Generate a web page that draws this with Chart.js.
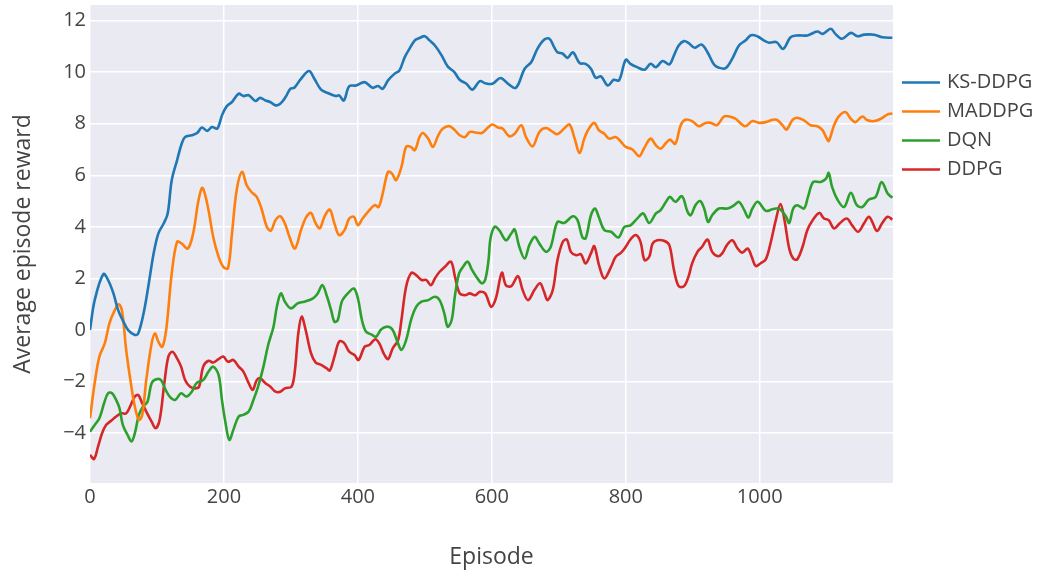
<!DOCTYPE html>
<html>
<head>
<meta charset="utf-8">
<script src="https://cdn.jsdelivr.net/npm/chart.js@4"></script>
<style>
    html, body { margin: 0; padding: 0; background: #ffffff; }
    #contenedor { width: 1037px; height: 578px; }
</style>
</head>
<body>
<div id="contenedor"><canvas id="graficoRecompensa"></canvas></div>
<script>
// Datos (episodio, recompensa media)
const nombresSeries = ['KS-DDPG', 'MADDPG', 'DQN', 'DDPG'];
const coloresSeries = ['#1f77b4', '#ff7f0e', '#2ca02c', '#d62728'];
const ticksX = [0, 200, 400, 600, 800, 1000];
const ticksY = [-4, -2, 0, 2, 4, 6, 8, 10, 12];

const episodiosKS = [0,7,20,27,35,42,50,57,67,72,80,87,95,102,110,116,122,130,137,142,152,160,167,175,182,190,197,204,212,222,229,237,247,254,262,269,277,284,292,299,305,315,327,335,345,355,367,372,379,387,397,410,422,430,437,445,455,462,470,477,485,492,500,507,515,525,534,544,552,562,571,582,590,601,613,624,636,649,659,668,678,686,693,698,706,713,721,731,740,748,755,763,773,782,790,800,807,817,828,837,845,855,865,872,879,887,894,903,913,922,932,939,949,959,969,979,987,997,1006,1014,1025,1035,1046,1056,1071,1086,1094,1106,1113,1123,1136,1146,1156,1171,1183,1198];
const valoresKS = [0,1.16,2.17,1.94,1.42,0.77,0.32,0,-0.19,-0.13,0.65,1.68,2.97,3.74,4.13,4.52,5.8,6.58,7.23,7.48,7.55,7.64,7.85,7.72,7.87,7.81,8.32,8.67,8.84,9.16,9.07,9.1,8.88,9.0,8.9,8.84,8.71,8.77,9.03,9.35,9.39,9.74,10.04,9.74,9.32,9.19,9.07,9.1,8.9,9.45,9.48,9.61,9.39,9.46,9.35,9.68,9.94,10.06,10.58,10.9,11.23,11.32,11.39,11.23,11.03,10.65,10.22,10.0,9.7,9.55,9.32,9.65,9.57,9.55,9.77,9.55,9.39,10.13,10.39,10.9,11.25,11.29,10.97,10.77,10.71,10.55,10.77,10.35,10.32,10.13,9.78,9.83,9.48,9.7,9.68,10.48,10.32,10.19,10.09,10.32,10.19,10.43,10.3,10.65,11.03,11.2,11.12,10.94,11.07,10.77,10.28,10.17,10.15,10.52,11.03,11.23,11.43,11.38,11.23,11.14,11.16,10.9,11.35,11.42,11.42,11.57,11.48,11.68,11.48,11.29,11.52,11.39,11.45,11.45,11.35,11.33];

const episodiosMA = [0,7,14,22,29,37,43,48,54,61,67,73,78,84,92,97,102,108,114,122,130,137,146,154,162,168,176,184,192,199,206,212,219,227,234,241,249,256,264,270,277,284,291,298,306,315,323,330,336,343,350,358,365,372,380,387,394,400,407,415,425,431,437,445,451,457,465,472,479,485,492,497,505,512,520,527,537,545,552,560,567,575,585,595,601,609,616,626,634,644,651,661,671,681,691,698,708,716,723,731,738,745,753,760,768,775,785,793,800,810,820,827,837,845,852,860,866,874,882,889,899,909,919,927,936,947,957,964,978,989,999,1009,1019,1026,1034,1040,1049,1056,1066,1076,1086,1094,1099,1103,1111,1118,1128,1136,1143,1153,1161,1171,1181,1191,1198];
const valoresMA = [-3.42,-2.06,-1.03,-0.52,0.26,0.77,1.0,0.71,-0.77,-2.06,-2.97,-3.48,-3.29,-1.94,-0.52,-0.13,-0.45,-0.65,0.06,2.19,3.42,3.35,3.16,3.74,5.03,5.51,4.77,3.61,2.84,2.45,2.39,3.74,5.42,6.13,5.61,5.35,5.16,4.71,4.0,3.85,4.26,4.41,4.13,3.6,3.16,3.87,4.39,4.54,4.19,3.94,4.39,4.67,4.13,3.68,3.87,4.32,4.39,4.06,4.32,4.58,4.84,4.77,5.29,6.13,6.06,5.81,6.32,7.1,7.1,6.97,7.48,7.64,7.42,7.1,7.55,7.81,7.9,7.74,7.55,7.48,7.68,7.66,7.64,7.87,7.97,7.85,7.81,7.51,7.61,7.94,7.48,7.12,7.68,7.83,7.68,7.59,7.81,7.97,7.48,6.86,7.42,7.81,8.03,7.74,7.61,7.42,7.48,7.29,7.1,7.0,6.74,7.03,7.42,7.16,7.03,7.25,7.38,7.22,7.94,8.15,8.1,7.9,8.03,8.03,7.94,8.28,8.26,8.19,7.9,8.1,8.03,8.06,8.15,8.15,7.94,7.77,8.15,8.23,8.13,7.94,7.9,7.74,7.48,7.33,7.94,8.28,8.45,8.19,8.06,8.28,8.13,8.1,8.19,8.36,8.39];

const episodiosDQN = [0,7,14,21,27,33,39,44,49,56,62,67,73,79,86,92,99,106,113,119,127,136,144,152,159,169,177,184,192,197,202,208,214,222,229,237,244,251,259,266,274,279,285,291,300,310,320,333,340,347,354,360,365,370,376,385,394,400,406,412,420,427,435,445,452,459,465,472,480,487,495,505,515,522,529,534,540,545,551,557,564,570,577,585,590,595,598,604,611,621,629,634,641,649,656,664,671,681,688,698,708,721,728,735,740,748,754,760,768,778,789,798,807,817,826,835,845,852,860,866,874,884,892,897,904,911,917,923,929,939,952,962,969,977,983,989,997,1009,1019,1029,1039,1044,1050,1056,1066,1072,1080,1091,1099,1103,1108,1116,1126,1136,1145,1153,1163,1173,1182,1191,1198];
const valoresDQN = [-3.94,-3.68,-3.42,-2.84,-2.45,-2.45,-2.71,-3.03,-3.68,-4.06,-4.32,-4.0,-3.29,-2.97,-2.77,-2.06,-1.91,-1.94,-2.32,-2.58,-2.71,-2.45,-2.58,-2.39,-2.06,-1.94,-1.61,-1.42,-1.74,-2.71,-3.55,-4.26,-3.87,-3.35,-3.29,-3.16,-2.71,-2.19,-1.42,-0.58,0.13,0.9,1.42,1.1,0.84,1.03,1.1,1.23,1.42,1.74,1.29,0.77,0.32,0.39,1.1,1.42,1.61,1.23,0.39,-0.06,-0.17,-0.26,0.03,0.13,0,-0.45,-0.77,-0.39,0.45,0.9,1.1,1.16,1.29,1.16,0.65,0.13,0.39,1.35,2.19,2.45,2.65,2.35,2.06,1.81,1.94,2.7,3.55,4.0,3.87,3.48,3.74,3.9,3.23,2.77,3.29,3.61,3.35,3.03,3.23,4.19,4.15,4.41,4.26,3.61,3.55,4.45,4.71,4.36,3.87,3.81,3.59,4.0,4.06,4.32,4.52,4.15,4.52,4.65,4.97,5.16,4.97,5.19,4.6,4.45,4.84,5.0,4.71,4.19,4.45,4.71,4.71,4.84,4.97,4.65,4.36,4.71,4.97,4.62,4.68,4.71,4.41,4.15,4.71,4.84,4.71,5.16,5.74,5.74,5.87,6.09,5.55,5.06,4.77,5.32,4.84,4.77,5.06,5.16,5.74,5.29,5.13];

const episodiosDDPG = [0,6,12,18,24,32,39,47,54,61,67,72,78,84,92,98,104,111,117,123,130,136,142,149,157,163,169,177,184,192,199,206,214,222,229,237,243,249,254,262,269,277,284,291,301,306,311,316,322,330,337,345,353,358,365,372,379,387,395,401,410,417,426,432,439,445,452,460,465,472,480,487,495,502,509,515,522,530,539,545,552,560,567,575,582,590,599,606,615,621,629,639,646,654,664,672,678,683,691,698,706,712,718,726,733,740,748,753,760,768,778,785,793,800,807,815,822,828,835,840,847,857,865,872,879,887,894,899,907,914,922,929,938,944,951,959,967,974,982,988,994,1001,1009,1016,1024,1031,1037,1044,1050,1056,1064,1071,1079,1089,1096,1103,1111,1120,1130,1138,1147,1156,1163,1168,1175,1183,1191,1198];
const valoresDDPG = [-4.84,-5.0,-4.52,-4.0,-3.68,-3.51,-3.35,-3.23,-3.23,-2.9,-2.58,-2.52,-2.84,-3.16,-3.55,-3.81,-3.48,-2.06,-1.03,-0.84,-1.1,-1.42,-1.94,-2.19,-2.26,-2.19,-1.42,-1.19,-1.26,-1.13,-1.03,-1.23,-1.16,-1.42,-1.61,-2.06,-2.32,-1.94,-1.87,-2.06,-2.19,-2.39,-2.39,-2.26,-2.19,-1.55,-0.13,0.52,0,-0.9,-1.26,-1.35,-1.48,-1.57,-1.03,-0.45,-0.49,-0.84,-0.97,-1.16,-0.65,-0.58,-0.36,-0.52,-0.93,-1.13,-0.71,-0.39,0.39,1.68,2.22,2.13,1.94,1.94,1.74,2.0,2.26,2.45,2.65,2.06,1.42,1.35,1.42,1.35,1.48,1.42,0.9,1.23,2.22,1.74,1.7,2.09,1.55,1.16,1.57,1.81,1.48,1.16,1.55,2.71,3.42,3.51,3.03,2.9,2.94,2.58,2.97,3.25,2.52,2.0,2.45,2.84,3.0,3.23,3.51,3.68,3.42,2.71,2.84,3.35,3.48,3.46,3.29,2.32,1.7,1.7,2.1,2.58,3.03,3.23,3.51,3.03,2.86,2.97,3.29,3.48,3.16,3.0,3.16,2.84,2.48,2.58,2.74,3.35,4.26,4.88,4.26,3.16,2.77,2.74,3.23,3.87,4.26,4.54,4.32,4.26,3.94,4.15,4.32,4.06,3.81,4.15,4.39,4.19,3.84,4.15,4.39,4.28];

const episodios = [episodiosKS, episodiosMA, episodiosDQN, episodiosDDPG];
const valores = [valoresKS, valoresMA, valoresDQN, valoresDDPG];

const fuente = "'Open Sans', 'Noto Sans', sans-serif";
const colorTexto = '#444444';

// Fondo gris del área de trazado
const fondoArea = {
    id: 'fondoArea',
    beforeDraw(chart) {
        const { ctx, chartArea } = chart;
        ctx.save();
        ctx.fillStyle = 'rgb(234,234,242)';
        ctx.fillRect(chartArea.left, chartArea.top, chartArea.right - chartArea.left, chartArea.bottom - chartArea.top);
        ctx.restore();
    }
};

// Leyenda a la derecha dibujada a mano
const leyendaDerecha = {
    id: 'leyendaDerecha',
    afterDraw(chart) {
        const ctx = chart.ctx;
        ctx.save();
        ctx.font = `20px ${fuente}`;
        ctx.textBaseline = 'middle';
        chart.data.datasets.forEach((ds, i) => {
            const y = 82.5 + i * 29;
            ctx.strokeStyle = ds.borderColor;
            ctx.lineWidth = 2.5;
            ctx.beginPath();
            ctx.moveTo(902, y);
            ctx.lineTo(940, y);
            ctx.stroke();
            ctx.fillStyle = colorTexto;
            ctx.fillText(ds.label, 947, y);
        });
        ctx.restore();
    }
};

const datasets = nombresSeries.map((nombre, i) => ({
    label: nombre,
    data: episodios[i].map((ep, j) => ({ x: ep, y: valores[i][j] })),
    borderColor: coloresSeries[i],
    backgroundColor: coloresSeries[i],
    borderWidth: 2.6,
    pointRadius: 0,
    tension: 0.35,
    fill: false
}));

new Chart(document.getElementById('graficoRecompensa'), {
    type: 'line',
    data: { datasets },
    options: {
        responsive: true,
        maintainAspectRatio: false,
        animation: false,
        layout: { padding: { left: 0, right: 144, top: 5, bottom: 0 } },
        plugins: {
            legend: { display: false },
            tooltip: { enabled: false }
        },
        scales: {
            x: {
                type: 'linear',
                min: 0,
                max: 1199,
                afterBuildTicks: (escala) => { escala.ticks = ticksX.map(v => ({ value: v })); },
                afterFit: (escala) => { escala.height = 95; },
                grid: { color: '#ffffff', lineWidth: 1.5, drawTicks: false },
                border: { display: false },
                ticks: {
                    color: colorTexto, font: { family: fuente, size: 20 }, padding: 2, maxRotation: 0,
                    callback: (valor) => String(valor)
                },
                title: { display: true, text: 'Episode', color: colorTexto, font: { family: fuente, size: 23 }, padding: { top: 0, bottom: 7 } }
            },
            y: {
                type: 'linear',
                min: -5.93,
                max: 12.6,
                afterBuildTicks: (escala) => { escala.ticks = ticksY.map(v => ({ value: v })); },
                afterFit: (escala) => {
                    escala.width = 90;
                    escala.paddingTop = 0;
                    escala.paddingBottom = 0;
                },
                grid: { color: '#ffffff', lineWidth: 1.5, drawTicks: false },
                border: { display: false },
                ticks: {
                    color: colorTexto, font: { family: fuente, size: 20 }, padding: 4,
                    callback: (valor) => (valor < 0 ? '\u2212' + Math.abs(valor) : String(valor))
                },
                title: { display: true, text: 'Average episode reward', color: colorTexto, font: { family: fuente, size: 23 }, padding: { top: 10, bottom: 0 } }
            }
        }
    },
    plugins: [fondoArea, leyendaDerecha]
});
</script>
</body>
</html>
